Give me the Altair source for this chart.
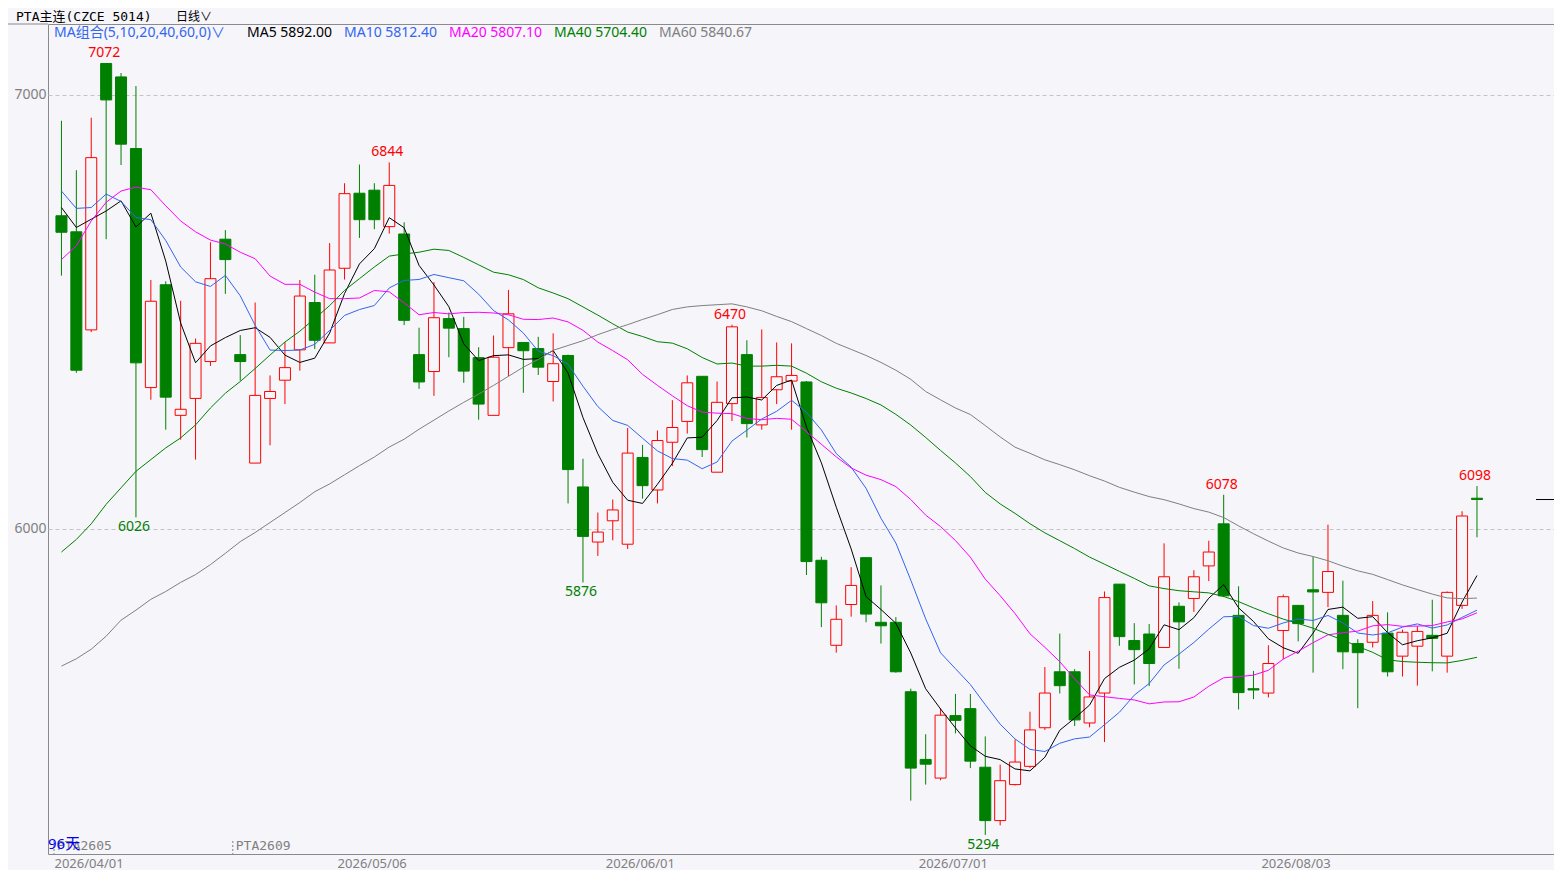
import altair as alt
import pandas as pd
import numpy as np

# ---------------- data ----------------
opens = [6721, 6684, 6458, 7072, 7041, 6876, 6325, 6562, 6261, 6300,
         6385, 6667, 6401, 6151, 6300, 6342, 6412, 6521, 6428, 6600,
         6773, 6780, 6696, 6679, 6401, 6362, 6484, 6461, 6394, 6261,
         6417, 6429, 6415, 6339, 6399, 6096, 5969, 6018, 5964, 6164,
         6089, 6199, 6247, 6351, 6130, 6288, 6401, 6239, 6320, 6340,
         6338, 5927, 5731, 5825, 5933, 5784, 5784, 5624, 5468, 5425,
         5569, 5585, 5450, 5327, 5410, 5452, 5541, 5670, 5670, 5552,
         5621, 5872, 5742, 5757, 5726, 5821, 5839, 5914, 6011, 5800,
         5631, 5621, 5765, 5823, 5859, 5853, 5800, 5735, 5738, 5759,
         5706, 5729, 5754, 5706, 5823, 6070]
highs = [6940, 6826, 6947, 7072, 7050, 7020, 6573, 6570, 6525, 6438,
         6660, 6688, 6446, 6521, 6353, 6430, 6573, 6585, 6658, 6796,
         6839, 6796, 6844, 6706, 6463, 6568, 6498, 6488, 6418, 6445,
         6550, 6429, 6442, 6450, 6401, 6161, 6037, 6067, 6232, 6193,
         6226, 6296, 6353, 6351, 6339, 6470, 6434, 6459, 6429, 6427,
         6340, 5935, 5823, 5911, 5933, 5869, 5796, 5631, 5526, 5586,
         5619, 5619, 5521, 5456, 5514, 5578, 5681, 5758, 5676, 5718,
         5855, 5872, 5782, 5780, 5966, 5830, 5904, 5972, 6078, 5867,
         5672, 5731, 5848, 5823, 5935, 6009, 5880, 5745, 5833, 5807,
         5767, 5775, 5836, 5855, 6040, 6098]
lows = [6583, 6359, 6453, 6667, 6838, 6026, 6297, 6228, 6205, 6159,
        6375, 6541, 6341, 6151, 6192, 6287, 6364, 6414, 6428, 6574,
        6670, 6690, 6680, 6469, 6322, 6306, 6395, 6336, 6251, 6261,
        6351, 6313, 6354, 6293, 6058, 5876, 5937, 5973, 5953, 6069,
        6058, 6144, 6219, 6165, 6130, 6248, 6210, 6228, 6287, 6228,
        5893, 5773, 5714, 5797, 5784, 5735, 5668, 5373, 5410, 5420,
        5528, 5448, 5294, 5316, 5408, 5448, 5536, 5620, 5545, 5542,
        5508, 5730, 5641, 5637, 5726, 5677, 5808, 5879, 5842, 5583,
        5607, 5611, 5699, 5740, 5668, 5819, 5676, 5586, 5726, 5659,
        5659, 5638, 5671, 5668, 5815, 5980]
closes = [6683, 6365, 6855, 6988, 6886, 6382, 6524, 6303, 6275, 6427,
          6576, 6620, 6385, 6307, 6316, 6371, 6536, 6434, 6596, 6772,
          6712, 6712, 6791, 6480, 6338, 6486, 6462, 6363, 6287, 6395,
          6495, 6410, 6372, 6380, 6136, 5982, 5992, 6043, 6174, 6099,
          6203, 6233, 6336, 6182, 6291, 6465, 6242, 6302, 6350, 6353,
          5924, 5829, 5791, 5869, 5803, 5776, 5670, 5448, 5457, 5570,
          5558, 5464, 5327, 5419, 5462, 5536, 5621, 5638, 5559, 5612,
          5841, 5751, 5721, 5689, 5889, 5785, 5889, 5946, 5845, 5622,
          5628, 5689, 5843, 5781, 5854, 5901, 5716, 5714, 5800, 5670,
          5761, 5763, 5747, 5853, 6029, 6067]

ma5_head = [6740, 6694, 6713, 6732]
ma10_head = [6778, 6738, 6740, 6771, 6754, 6717, 6712, 6664, 6603]
ma20_head = [6620, 6652, 6709, 6752, 6778, 6787, 6781, 6744, 6709, 6684,
             6665, 6656, 6637, 6622, 6582, 6563, 6563, 6545, 6530]
ma40_head = [5946, 5975, 6011, 6056, 6094, 6132, 6159, 6186, 6209, 6239,
             6278, 6312, 6339, 6369, 6400, 6430, 6455, 6484, 6514, 6549,
             6576, 6603, 6628, 6633, 6637, 6644, 6641, 6625, 6608, 6591,
             6585, 6574, 6555, 6543, 6530, 6511, 6492, 6472, 6453]
ma60_head = [5683, 5700, 5722, 5752, 5789, 5812, 5837, 5855, 5876, 5894,
             5917, 5943, 5970, 5991, 6014, 6037, 6060, 6085, 6103, 6124,
             6145, 6165, 6188, 6206, 6229, 6250, 6271, 6291, 6310, 6330,
             6351, 6372, 6390, 6411, 6422, 6433, 6447, 6459, 6470, 6482,
             6493, 6505, 6511, 6514, 6516, 6518, 6511, 6502, 6489, 6477,
             6461, 6445, 6427, 6413, 6399, 6383, 6365, 6344, 6316]

date_labels = ["2026/04/01", "2026/05/06", "2026/06/01", "2026/07/01", "2026/08/03"]
date_idx = [0, 19, 37, 58, 81]

peak_idx = [3, 22, 45, 78, 95]
trough_idx = [5, 35, 62]

contract_names = ["PTA2605", "PTA2609"]
contract_start = [0, 12]

ma_names = ["MA5", "MA10", "MA20", "MA40", "MA60"]
ma_windows = [5, 10, 20, 40, 60]
legend_labels = ["MA组合(5,10,20,40,60,0)∨", "MA5 5892.00", "MA10 5812.40",
                 "MA20 5807.10", "MA40 5704.40", "MA60 5840.67"]
title_text = "PTA主连(CZCE 5014)"
period_text = "日线∨"
days_text = "96天"
y_ticks = [6000, 7000]

# ---------------- styling ----------------
BG = "#f5f5fa"
RED = "#ff0000"
GREEN = "#008000"
FRAME = "#8a8a8a"
GRAY_TXT = "#808080"
ma_colors = ["#000000", "#3366ee", "#ff00ff", "#008000", "#808080"]
legend_colors = ["#3366ee"] + ma_colors
legend_x = [6, 199, 296, 401, 506, 611]
SANS = "Noto Sans, Noto Sans CJK SC, DejaVu Sans"
MONO = "DejaVu Sans Mono, Noto Sans CJK SC"

W, H = 1506, 830
n = len(closes)

df = pd.DataFrame({"idx": np.arange(n), "open": opens, "high": highs,
                   "low": lows, "close": closes})
up = df["close"] >= df["open"]
df["col"] = np.where(up, RED, GREEN)
df["fillc"] = np.where(up, BG, GREEN)

cs = pd.Series(closes, dtype=float)
frames = []
heads = [ma5_head, ma10_head, ma20_head, ma40_head, ma60_head]
for name, win, head in zip(ma_names, ma_windows, heads):
    r = cs.rolling(win).mean()
    r.iloc[:len(head)] = head
    frames.append(pd.DataFrame({"idx": np.arange(n), "val": r.values, "series": name}))
ma_long = pd.concat(frames, ignore_index=True).dropna()

xscale = alt.Scale(domain=[-8.5 / 15, (W - 8.5) / 15], nice=False, zero=False)
yscale = alt.Scale(domain=[5250, 7163], nice=False, zero=False)

label_expr = " : ".join(
    f"datum.value == {i - 0.5} ? '{lab}'" for i, lab in zip(date_idx, date_labels)
) + " : ''"

x_axis = alt.Axis(values=[i - 0.5 for i in date_idx], labelExpr=label_expr,
                  labelAlign="left", labelBaseline="top", labelPadding=3,
                  labelFontSize=13, labelColor=GRAY_TXT, labelFont=SANS,
                  ticks=False, tickSize=0, domain=False, grid=False,
                  labelFlush=False, labelOverlap=False, labelBound=False, title=None)
y_axis = alt.Axis(values=y_ticks, format="d", labelFontSize=14,
                  labelColor=GRAY_TXT, labelFont=SANS, labelPadding=2,
                  ticks=False, tickSize=0, domain=False, grid=True,
                  gridColor="#c4c4c4", gridDash=[4, 3], gridWidth=1, title=None)

wicks = alt.Chart(df).mark_rule(strokeWidth=1).encode(
    x=alt.X("idx:Q", scale=xscale, axis=x_axis),
    y=alt.Y("low:Q", scale=yscale, axis=y_axis),
    y2="high:Q",
    color=alt.Color("col:N", scale=None),
)

Xn = alt.X("idx:Q", scale=xscale)

bodies = alt.Chart(df).mark_bar(size=11, strokeWidth=1, orient="vertical").encode(
    x=Xn,
    y=alt.Y("open:Q", scale=yscale),
    y2="close:Q",
    fill=alt.Fill("fillc:N", scale=None),
    stroke=alt.Stroke("col:N", scale=None),
)

lines = alt.Chart(ma_long).mark_line(strokeWidth=1).encode(
    x=Xn,
    y=alt.Y("val:Q", scale=yscale),
    color=alt.Color("series:N", scale=alt.Scale(domain=ma_names, range=ma_colors), legend=None),
    order="idx:Q",
)

hi_df = df.loc[peak_idx, ["idx", "high"]].copy()
hi_df["lab"] = hi_df["high"].astype(int).astype(str)
lo_df = df.loc[trough_idx, ["idx", "low"]].copy()
lo_df["lab"] = lo_df["low"].astype(int).astype(str)

hi_text = alt.Chart(hi_df).mark_text(dy=-10, dx=-2, fontSize=14, font=SANS, color=RED,
                                      baseline="middle").encode(
    x=Xn, y=alt.Y("high:Q", scale=yscale), text="lab:N")
lo_text = alt.Chart(lo_df).mark_text(dy=10, dx=-2, fontSize=14, font=SANS, color=GREEN,
                                      baseline="middle").encode(
    x=Xn, y=alt.Y("low:Q", scale=yscale), text="lab:N")

con_df = pd.DataFrame({"name": contract_names, "x": [s - 0.5 for s in contract_start]})
con_rule = alt.Chart(con_df).mark_rule(strokeWidth=1, strokeDash=[2, 2], color=GRAY_TXT).encode(
    x=alt.X("x:Q", scale=xscale), y=alt.value(H - 13), y2=alt.value(H))
con_text = alt.Chart(con_df).mark_text(align="left", baseline="middle", dx=3, fontSize=13,
                                       font=MONO, color=GRAY_TXT).encode(
    x=alt.X("x:Q", scale=xscale), y=alt.value(H - 8), text="name:N")

one = pd.DataFrame({"k": [0]})

def label(txt, x, y, color, size=14, font=SANS):
    return alt.Chart(one).mark_text(align="left", baseline="middle", fontSize=size,
                                    font=font, color=color).encode(
        x=alt.value(x), y=alt.value(y), text=alt.value(txt))

header = [label(t, x, 9, c) for t, x, c in zip(legend_labels, legend_x, legend_colors)]
title_l = label(title_text, -32, -7.5, "#000000", 13, MONO)
period_l = label(period_text, 128, -7.5, "#000000", 12, SANS)
days_l = label(days_text, 0, H - 10, "#0000ee", 15, SANS)

top_ext = alt.Chart(one).mark_rule(color=FRAME, strokeWidth=1).encode(
    x=alt.value(-48), x2=alt.value(0), y=alt.value(0))

last_df = df.tail(1)
last_rule = alt.Chart(last_df).mark_rule(color="#000000", strokeWidth=1).encode(
    x=alt.value(W - 18), x2=alt.value(W), y=alt.Y("close:Q", scale=yscale))

chart = alt.layer(
    wicks, bodies, lines, hi_text, lo_text, con_rule, con_text,
    *header, title_l, period_l, days_l, top_ext, last_rule
).properties(
    width=W, height=H,
    padding={"left": 40, "top": 16, "right": 0, "bottom": 16},
    autosize=alt.AutoSizeParams(type="none"),
).configure(background=BG).configure_view(stroke=FRAME, strokeWidth=1)

chart.save("out.html", embed_options={"renderer": "svg", "actions": False})
